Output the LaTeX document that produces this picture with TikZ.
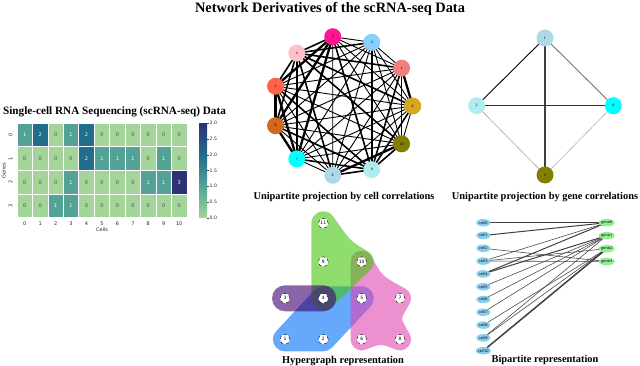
\documentclass[tikz,border=0pt]{standalone}
\usepackage{fontspec}
\setmainfont{Liberation Serif}
\newfontfamily\dejavu{DejaVu Sans}
\usetikzlibrary{shapes.geometric}
\pgfdeclarelayer{bg}
\pgfsetlayers{bg,main}
\definecolor{hm0}{HTML}{A3D49A}
\definecolor{hm1}{HTML}{52A395}
\definecolor{hm2}{HTML}{216D8C}
\definecolor{hm3}{HTML}{2C3273}
\definecolor{hmt0}{HTML}{505050}
\definecolor{hmt1}{HTML}{FFFFFF}
\definecolor{hmt2}{HTML}{FFFFFF}
\definecolor{hmt3}{HTML}{FFFFFF}
\definecolor{cgoldenrod}{HTML}{DAA520}
\definecolor{clightcoral}{HTML}{F08080}
\definecolor{clightskyblue}{HTML}{87CEFA}
\definecolor{cdeeppink}{HTML}{FF1493}
\definecolor{cpink}{HTML}{FFC0CB}
\definecolor{ctomato}{HTML}{FF6347}
\definecolor{cchocolate}{HTML}{D2691E}
\definecolor{ccyan}{HTML}{00FFFF}
\definecolor{clightblue}{HTML}{ADD8E6}
\definecolor{cpaleturq}{HTML}{AFEEEE}
\definecolor{colive}{HTML}{808000}
\definecolor{hgreen}{RGB}{68,197,15}
\definecolor{hpurple}{RGB}{60,0,110}
\definecolor{hblue}{RGB}{0,110,248}
\definecolor{hpink}{RGB}{223,70,177}
\definecolor{bcell}{HTML}{87CEEB}
\definecolor{bgene}{HTML}{90EE90}
\tikzset{
  lab/.style={font=\bfseries\fontsize{10.4}{12}\selectfont, inner sep=0pt},
  hmcell/.style={draw=white, line width=0.8pt, minimum width=15.45pt, minimum height=23.6pt, inner sep=0pt, font=\dejavu\fontsize{5}{5}\selectfont},
  ticklab/.style={font=\dejavu\fontsize{5}{5}\selectfont, inner sep=0pt, text=black!85},
  cnode/.style={circle, minimum size=17pt, inner sep=0pt, font=\dejavu\fontsize{3.2}{3.2}\selectfont},
  hnode/.style={circle, draw=black, dashed, line width=0.4pt, fill=white, minimum size=10pt, inner sep=0pt, font=\dejavu\fontsize{4.5}{4.5}\selectfont},
  blob/.style={line width=24pt, line join=round, line cap=round},
  bnode/.style={ellipse, minimum height=7.5pt, inner sep=0pt, font=\dejavu\fontsize{3.6}{3.6}\selectfont}
}
\begin{document}
\begin{tikzpicture}[x=1pt,y=-1pt]
\useasboundingbox (0,0) rectangle (640,366);
% titles
\node[font=\bfseries\fontsize{14.4}{16}\selectfont, inner sep=0pt] (title) at (330,8.5) {Network Derivatives of the scRNA-seq Data};
\node[font=\bfseries\fontsize{11.2}{13}\selectfont, inner sep=0pt] (hmtitle) at (114.5,112) {Single-cell RNA Sequencing (scRNA-seq) Data};
\node[lab] (lab1) at (344,197) {Unipartite projection by cell correlations};
\node[lab] (lab2) at (545,197) {Unipartite projection by gene correlations};
\node[lab] (lab3) at (343,361) {Hypergraph representation};
\node[lab] (lab4) at (545,360) {Bipartite representation};
% heatmap
\foreach \rowvals [count=\r from 0] in {{1,2,0,1,2,0,0,0,0,0,0},{0,0,0,0,2,1,1,1,0,1,0},{0,0,0,1,0,0,0,0,1,1,3},{0,0,1,1,0,0,0,0,0,0,0}} {
  \foreach \v [count=\c from 0] in \rowvals {
    \node[hmcell, fill=hm\v, text=hmt\v] (h\r-\c) at ({24.725+15.45*\c},{135.1+23.6*\r}) {\v};
  }
}
\foreach \c in {0,...,10} {
  \node[ticklab] (cl\c) at ({24.725+15.45*\c},223.5) {\c};
}
\foreach \r in {0,...,3} {
  \node[ticklab, rotate=90] (rl\r) at (10.5,{135.1+23.6*\r}) {\r};
}
\node[ticklab] (cellsl) at (102,230) {Cells};
\node[ticklab, rotate=90] (genesl) at (3.8,170.5) {Genes};
% colorbar
\shade[bottom color=hm0, top color=hm1] (199,217.7) rectangle (207,186.2);
\shade[bottom color=hm1, top color=hm2] (199,186.4) rectangle (207,154.8);
\shade[bottom color=hm2, top color=hm3] (199,155.0) rectangle (207,123.3);
\foreach \t/\lab in {0/0.0,1/0.5,2/1.0,3/1.5,4/2.0,5/2.5,6/3.0} {
  \draw[line width=0.3pt, black!70] (207,{217.7-15.73*\t}) -- (209,{217.7-15.73*\t});
  \node[ticklab, anchor=west, font=\dejavu\fontsize{4.6}{4.6}\selectfont] (cb\t) at (209.5,{217.7-15.73*\t}) {\lab};
}
% cell correlation graph
\foreach \i/\col in {0/cgoldenrod,1/clightcoral,2/clightskyblue,3/cdeeppink,4/cpink,5/ctomato,6/cchocolate,7/ccyan,8/clightblue,9/cpaleturq,10/colive} {
  \node[cnode, fill=\col] (n\i) at ({342.7+70*cos(360*\i/11)},{106-70*sin(360*\i/11)}) {\i};
}
\begin{pgfonlayer}{bg}
\foreach \a/\b in {0/5,0/6,0/7,1/5,1/6,1/7,0/8,0/10,1/8,1/10,0/2,1/2,5/8,5/10,6/8,6/10,7/8,7/10,2/5,2/6,2/7,2/8,2/10,3/0,3/1,3/8,3/10,3/2} {
  \draw[line width=0.9pt] (n\a.center) -- (n\b.center);
}
\foreach \a/\b in {4/0,4/1,4/5,4/6,4/7,4/2,4/8,4/10,4/3,9/5,9/6,9/7,9/8,9/10,9/0,9/1,9/2,9/3} {
  \draw[line width=1.6pt] (n\a.center) -- (n\b.center);
}
\foreach \a/\b in {0/1,5/6,5/7,6/7,8/10,3/5,3/6,3/7} {
  \draw[line width=2.3pt] (n\a.center) -- (n\b.center);
}
\end{pgfonlayer}
% gene correlation graph
\node[cnode, fill=ccyan] (g0) at (613.3,105.7) {0};
\node[cnode, fill=clightblue] (g1) at (545,38) {1};
\node[cnode, fill=cpaleturq] (g2) at (476.7,105.7) {2};
\node[cnode, fill=colive] (g3) at (545,175) {3};
\begin{pgfonlayer}{bg}
\draw[line width=0.9pt, black] (g1.center) -- (g2.center);
\draw[line width=1.2pt, black!75] (g1.center) -- (g3.center);
\draw[line width=0.9pt, black!55] (g1.center) -- (g0.center);
\draw[line width=1.0pt, black!80] (g2.center) -- (g0.center);
\draw[line width=0.6pt, black!35] (g2.center) -- (g3.center);
\draw[line width=0.6pt, black!30] (g0.center) -- (g3.center);
\end{pgfonlayer}
% hypergraph
\node[hnode] (hv1) at (285,339.3) {1};
\node[hnode] (hv2) at (323.3,339.3) {2};
\node[hnode] (hv3) at (285,298.3) {3};
\node[hnode] (hv4) at (323.3,298.3) {4};
\node[hnode] (hv5) at (361.7,298.3) {5};
\node[hnode] (hv6) at (361.7,339.3) {6};
\node[hnode] (hv7) at (400,298.3) {7};
\node[hnode] (hv8) at (400,339.3) {8};
\node[hnode] (hv9) at (323.3,261.7) {9};
\node[hnode] (hv10) at (361.7,261.7) {10};
\node[hnode] (hv11) at (323.3,223.3) {11};
\begin{pgfonlayer}{bg}
\begin{scope}[transparency group, opacity=0.6]
\path (260,200) rectangle (430,366);
\draw[blob, fill=hblue, draw=hblue] (hv1.center) -- (hv2.center) -- (hv5.center) -- (hv4.center) -- cycle;
\end{scope}
\begin{scope}[transparency group, opacity=0.6]
\path (260,200) rectangle (430,366);
\draw[blob, fill=hpink, draw=hpink, line width=22pt] (hv5.center) -- (hv10.center) .. controls (374,284) .. (hv7.center) .. controls (388,318.8) .. (hv8.center) .. controls (380.8,332) .. (hv6.center) -- cycle;
\end{scope}
\begin{scope}[transparency group, opacity=0.6]
\path (260,200) rectangle (430,366);
\draw[blob, fill=hgreen, draw=hgreen] (hv11.center) -- (hv9.center) -- (hv4.center) -- (hv10.center) .. controls (342,250) .. (hv11.center) -- cycle;
\end{scope}
\begin{scope}[transparency group, opacity=0.6]
\path (260,200) rectangle (430,366);
\draw[blob, draw=hpurple, line width=26pt] (hv3.center) -- (hv4.center);
\end{scope}
\end{pgfonlayer}
% bipartite
\foreach \i in {0,...,10} {
  \node[bnode, fill=bcell, minimum width=14pt] (bc\i) at (483.3,{222.7+12.8*\i}) {cell\i};
}
\foreach \j/\yy in {0/222.7,1/235.7,2/248.7,3/261.5} {
  \node[bnode, fill=bgene, minimum width=15.5pt] (bg\j) at (606.7,\yy) {gene\j};
}
\begin{pgfonlayer}{bg}
\foreach \a/\b/\w in {0/0/0.55,1/0/1.0,3/0/0.55,4/0/1.0,4/1/1.0,5/1/0.55,6/1/0.55,7/1/0.55,9/1/0.55,3/2/0.55,8/2/0.55,9/2/0.55,10/2/1.5,2/3/0.55,3/3/0.55} {
  \draw[line width=\w pt, black!75] (bc\a.center) -- (bg\b.center);
}
\end{pgfonlayer}
\end{tikzpicture}
\end{document}
